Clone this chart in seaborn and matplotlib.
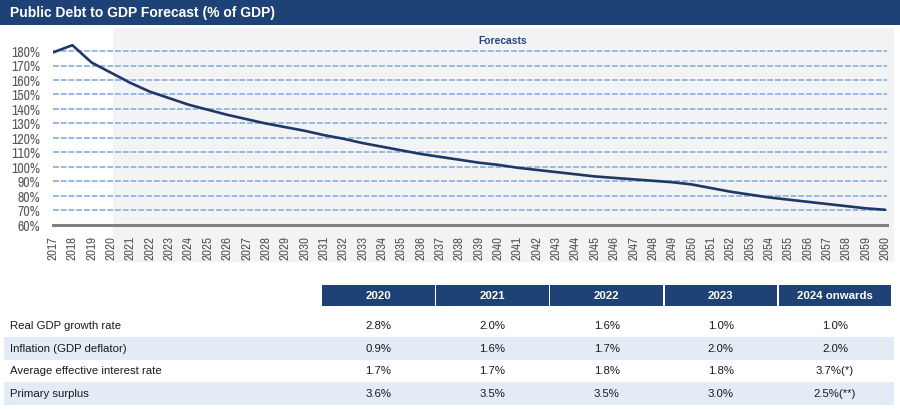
import numpy as np
import pandas as pd
import matplotlib
matplotlib.use("Agg")
import matplotlib.pyplot as plt
import seaborn as sns

# debt to GDP (% of GDP)
years = list(range(2017, 2061))
debt = [179, 184, 172, 165, 158, 152, 147.5, 143, 139.5, 136,
        133, 130, 127.5, 125, 122, 119.5, 116.5, 114, 111.5, 109,
        107, 105, 103, 101.5, 99.5, 98, 96.5, 95, 93.5, 92.5,
        91.5, 90.5, 89.5, 88, 85.5, 83, 81, 79, 77.5, 76,
        74.5, 73, 71.5, 70.5]

# assumptions table
tbl_cols = ["2020", "2021", "2022", "2023", "2024 onwards"]
tbl_rows = ["Real GDP growth rate", "Inflation (GDP deflator)",
            "Average effective interest rate", "Primary surplus"]
tbl_vals = [["2.8%", "2.0%", "1.6%", "1.0%", "1.0%"],
            ["0.9%", "1.6%", "1.7%", "2.0%", "2.0%"],
            ["1.7%", "1.7%", "1.8%", "1.8%", "3.7%(*)"],
            ["3.6%", "3.5%", "3.5%", "3.0%", "2.5%(**)"]]

NAVY = "#1F4276"
LINE = "#1F3864"
GRID = "#8DB4E2"
SHADE = "#F2F3F5"
STRIPE = "#E3EBF6"
TICK = "#595959"

sns.set_theme(style="white")
plt.rcParams['font.family'] = ['Liberation Sans', 'DejaVu Sans']
narrow = ['Archivo Narrow', 'Liberation Sans', 'DejaVu Sans']

W, H = 900, 411
fig = plt.figure(figsize=(W / 100, H / 100), dpi=100)

# background axes in pixel coords: title bar, forecast shading, table
bg = fig.add_axes([0, 0, 1, 1], zorder=0)
bg.set_xlim(0, W)
bg.set_ylim(H, 0)
bg.axis("off")

bg.add_patch(plt.Rectangle((0, 0), W, 25, color=NAVY, lw=0))
bg.text(10, 13, "Public Debt to GDP Forecast (% of GDP)", color="white",
        fontsize=10, fontweight="bold", va="center", ha="left")

bg.add_patch(plt.Rectangle((113, 28), 894 - 113, 262 - 28, color=SHADE, lw=0))
bg.text(503, 41, "Forecasts", color="#1F497D", fontsize=7.4,
        fontweight="bold", va="center", ha="center")

col_x0, col_step, col_w = 322, 114.2, 112.5
for i, c in enumerate(tbl_cols):
    x0 = col_x0 + i * col_step
    bg.add_patch(plt.Rectangle((x0, 285), col_w, 21, color=NAVY, lw=0))
    bg.text(x0 + col_w / 2, 295.5, c, color="white", fontsize=8.2,
            fontweight="bold", ha="center", va="center")

row_y0, row_h = 314.8, 22.5
for r, name in enumerate(tbl_rows):
    y0 = row_y0 + r * row_h
    if r % 2 == 1:
        bg.add_patch(plt.Rectangle((4, y0), 894 - 4, row_h, color=STRIPE, lw=0))
    yc = y0 + row_h / 2
    bg.text(10, yc, name, color="#1a1a1a", fontsize=8.2, ha="left", va="center")
    for i, v in enumerate(tbl_vals[r]):
        bg.text(col_x0 + i * col_step + col_w / 2, yc, v, color="#1a1a1a",
                fontsize=8.2, ha="center", va="center")

# line chart
df = pd.DataFrame({"year": years, "debt": debt})
x_l, x_r = 53, 887
y_b = 225
px_per10 = 14.5
ymin, ymax = 60, 185
y_t = y_b - (ymax - ymin) / 10 * px_per10
ax = fig.add_axes([x_l / W, (H - y_b) / H, (x_r - x_l) / W, (y_b - y_t) / H], zorder=1)
ax.patch.set_alpha(0)

# dashed gridlines
for v in range(70, 190, 10):
    ax.axhline(v, xmax=1.002, color=GRID, lw=1.3, ls=(0, (3.2, 1.1)), zorder=1)

sns.lineplot(data=df, x="year", y="debt", ax=ax, color=LINE, lw=1.9, zorder=3)

ax.set_xlim(2017, 2060.1)
ax.set_ylim(ymin, ymax)
ax.set_xticks(years)
ax.set_xticklabels([str(y) for y in years], rotation=90, fontsize=9.5,
                   color=TICK, family=narrow)
ax.set_yticks(list(range(60, 190, 10)))
ax.set_yticklabels([f"{v}%" for v in range(60, 190, 10)], fontsize=10,
                   color=TICK, family=narrow)
ax.tick_params(axis="both", length=0)
ax.tick_params(axis="x", pad=8)
ax.tick_params(axis="y", pad=9)
ax.set_xlabel("")
ax.set_ylabel("")
for s in ["top", "right", "left"]:
    ax.spines[s].set_visible(False)
ax.spines["bottom"].set_color("#808080")
ax.spines["bottom"].set_linewidth(2.2)

fig.savefig("out.png", dpi=100)
